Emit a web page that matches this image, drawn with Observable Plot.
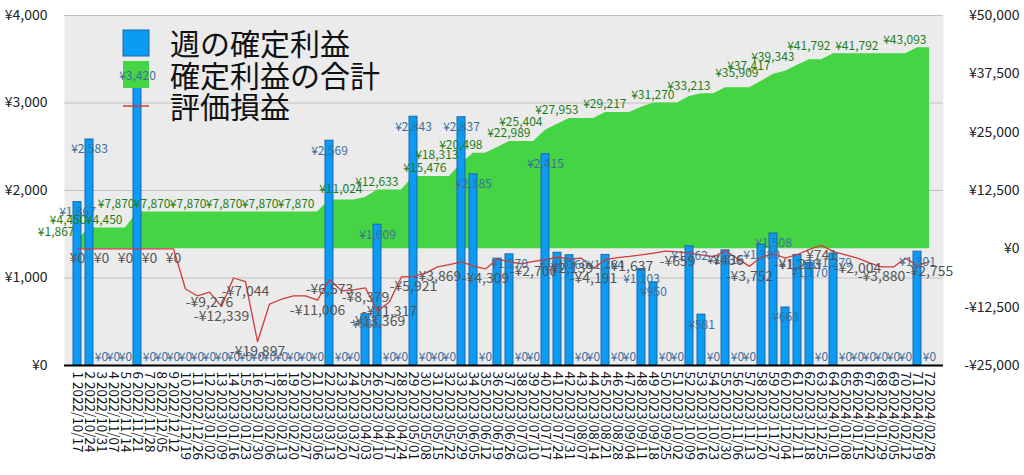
<!DOCTYPE html>
<html><head><meta charset="utf-8">
<script src="https://cdn.jsdelivr.net/npm/d3@7"></script>
<script src="https://cdn.jsdelivr.net/npm/@observablehq/plot@0.6"></script>
<style>
html,body{margin:0;padding:0;background:#fff;}
#chart{width:1024px;height:475px;}
</style></head><body><div id="chart"></div>
<script>
const weekDates = [
"2022/10/17","2022/10/24","2022/10/31","2022/11/07","2022/11/14","2022/11/21","2022/11/28","2022/12/05","2022/12/12","2022/12/19","2022/12/26",
"2023/01/02","2023/01/09","2023/01/16","2023/01/23","2023/01/30","2023/02/06","2023/02/13","2023/02/20","2023/02/27",
"2023/03/06","2023/03/13","2023/03/20","2023/03/27","2023/04/03","2023/04/10","2023/04/17","2023/04/24",
"2023/05/01","2023/05/08","2023/05/15","2023/05/22","2023/05/29","2023/06/05","2023/06/12","2023/06/19","2023/06/26",
"2023/07/03","2023/07/10","2023/07/17","2023/07/24","2023/07/31","2023/08/07","2023/08/14","2023/08/21","2023/08/28",
"2023/09/04","2023/09/11","2023/09/18","2023/09/25","2023/10/02","2023/10/09","2023/10/16","2023/10/23","2023/10/30",
"2023/11/06","2023/11/13","2023/11/20","2023/11/27","2023/12/04","2023/12/11","2023/12/18","2023/12/25",
"2024/01/01","2024/01/08","2024/01/15","2024/01/22","2024/01/29","2024/02/05","2024/02/12","2024/02/19","2024/02/26"];

const weeklyProfit = [
1867,2583,0,0,0,3420,0,0,0,0,
0,0,0,0,0,0,0,0,0,0,
0,2569,0,0,585,1609,0,0,2843,0,
0,0,2837,2185,0,1221,1270,0,0,2415,
1289,1260,0,0,1264,0,0,1103,950,0,
0,1362,581,0,1316,0,0,1380,1508,663,
1263,1170,0,1279,0,0,0,0,0,0,
1301,0];

const cumulativeProfit = [
1867,4450,4450,4450,4450,7870,7870,7870,7870,7870,
7870,7870,7870,7870,7870,7870,7870,7870,7870,7870,
7870,10439,10439,10439,11024,12633,12633,12633,15476,15476,
15476,15476,18313,20498,20498,21719,22989,22989,22989,25404,
26693,27953,27953,27953,29217,29217,29217,30320,31270,31270,
31270,32632,33213,33213,34529,34529,34529,35909,37417,38080,
39343,40513,40513,41792,41792,41792,41792,41792,41792,41792,
43093,43093];

const unrealizedPL = [
0,0,0,0,0,0,0,0,0,-8600,
-10100,-9276,-12339,-6250,-7044,-19897,-11850,-10800,-10100,-10100,
-11006,-6573,-9000,-8800,-8379,-13369,-11317,-6000,-5921,-5200,
-3869,-3400,-2800,-3700,-4309,-2150,-2800,-3200,-2700,-2370,
-1750,-2139,-2000,-4191,-2300,-1900,-1637,-1300,-900,-500,
-659,-900,-1300,-1700,-436,-2100,-3752,-1700,-1100,-2000,
-1213,-100,741,-600,-1300,-2004,-3000,-3880,-3880,-2000,
-3600,-2755];

const leftTicks = [0,1000,2000,3000,4000];
const rightTicks = [-25000,-12500,0,12500,25000,37500,50000];
const greenLabelWeeks = [1,2,5,6,9,12,15,18,21,25,28,32,33,35,39,40,43,47,51,54,58,59,61,64,68,72];
const redLabelWeeks = [1,3,5,7,9,12,13,15,16,21,22,25,26,27,29,31,35,39,42,44,47,51,55,57,61,63,66,68,72];
const hiddenBarLabelWeeks = [36];
const legendNames = ["週の確定利益","確定利益の合計","評価損益"];

const LMAX = 4000, R0 = -25000, R1 = 50000;
const toLeft = v => (v - R0) * LMAX / (R1 - R0);
const fromLeft = v => Math.round(v * (R1 - R0) / LMAX + R0);
const yen = v => (v < 0 ? "-" : "") + "¥" + d3.format(",")(Math.abs(v));

const data = weekDates.map((d, i) => ({
  wk: i + 1, label: `${i + 1} ${d}`,
  profit: weeklyProfit[i], cum: cumulativeProfit[i], ev: unrealizedPL[i]
}));

const FONT = "'Noto Sans CJK JP', 'Noto Sans', sans-serif";

const chart = Plot.plot({
  width: 1024, height: 475,
  marginLeft: 64, marginRight: 81, marginTop: 15, marginBottom: 110,
  style: {fontFamily: FONT, background: "#fff", color: "#111"},
  x: {type: "band", domain: data.map(d => d.label), paddingInner: 0.32, paddingOuter: 0.16, axis: null},
  y: {domain: [0, LMAX], axis: null},
  marks: [
    Plot.frame({fill: "#ebebeb", stroke: null}),
    Plot.gridY({ticks: leftTicks.slice(1), stroke: "#c2c2c2", strokeOpacity: 1}),
    Plot.areaY(data, {x: "label", y1: () => toLeft(0), y2: d => toLeft(d.cum), fill: "#44d444", curve: "linear"}),
    Plot.barY(data, {x: "label", y: "profit", fill: "#0a9cf5", stroke: "#1f67a6", strokeWidth: 1}),
    Plot.lineY(data, {x: "label", y: d => toLeft(d.ev), stroke: "#cf3a3a", strokeWidth: 1.3}),
    Plot.ruleY([0], {stroke: "#000", strokeWidth: 2}),
    Plot.axisX({tickRotate: 90, tickSize: 0, tickPadding: 6, fontSize: 13.5, fill: "#111", label: null}),
    Plot.axisY({ticks: leftTicks, anchor: "left", tickSize: 0, tickPadding: 17, tickFormat: yen, fontSize: 14, fill: "#222", label: null}),
    Plot.axisY({ticks: rightTicks.map(toLeft), anchor: "right", tickSize: 0, tickPadding: 76, textAnchor: "end",
                tickFormat: v => yen(fromLeft(v)), fontSize: 14, fill: "#222", label: null}),
    Plot.text(data.filter(d => d.profit > 0 && !hiddenBarLabelWeeks.includes(d.wk)),
      {x: "label", y: "profit", text: d => yen(d.profit), dy: 10, fill: "#3b6e9c", fontSize: 12}),
    Plot.text(data.filter(d => d.profit === 0),
      {x: "label", y: "profit", text: d => yen(d.profit), dy: -8, fill: "#3b6e9c", fontSize: 12}),
    Plot.text(data.filter(d => greenLabelWeeks.includes(d.wk)),
      {x: "label", y: d => toLeft(d.cum), text: d => yen(d.cum), textAnchor: "end", dx: -3, dy: -8, fill: "#1c7d1c", fontSize: 12}),
    Plot.text(data.filter(d => redLabelWeeks.includes(d.wk)),
      {x: "label", y: d => toLeft(d.ev), text: d => yen(d.ev), dy: 10, fill: "#555", fontSize: 14})
  ]
});

document.getElementById("chart").appendChild(chart);

// legend (drawn over bars, under value labels)
const svg = d3.select(chart);
const lg = svg.append("g").attr("font-family", FONT).attr("text-anchor", "start");
lg.append("rect").attr("x", 123).attr("y", 30).attr("width", 26).attr("height", 26)
  .attr("fill", "#0a9cf5").attr("stroke", "#1f67a6");
lg.append("rect").attr("x", 123).attr("y", 61).attr("width", 26).attr("height", 27)
  .attr("fill", "#44d444");
lg.append("line").attr("x1", 123).attr("x2", 149).attr("y1", 106).attr("y2", 106)
  .attr("stroke", "#cf3a3a").attr("stroke-width", 1.5);
[44, 76, 107].forEach((y, i) => {
  lg.append("text").attr("x", 170).attr("y", y).attr("dy", "0.35em").attr("text-anchor", "start")
    .attr("font-size", 30).attr("fill", "#111").text(legendNames[i]);
});
svg.selectAll('g[aria-label="text"]').each(function() { chart.appendChild(this); });
</script>
</body></html>
